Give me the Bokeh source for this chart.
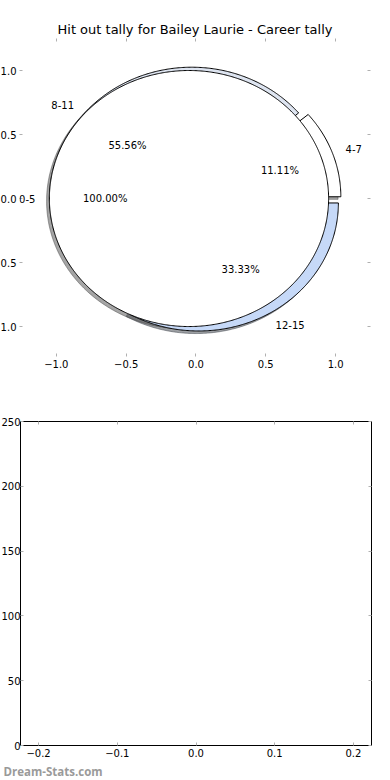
import numpy as np
from bokeh.plotting import figure
from bokeh.layouts import column
from bokeh.models import FixedTicker, Title, Range1d, LinearAxis, ColumnDataSource, LabelSet
from bokeh.core.properties import value
from bokeh.embed import file_html
from bokeh.resources import INLINE

# ---------------- data ----------------
chart_title = "Hit out tally for Bailey Laurie - Career tally"
outer_labels = ["4-7", "8-11", "12-15"]
outer_values = [1, 5, 3]
outer_colors = ["#ffffff", "#dde4f0", "#c6d9f8"]
outer_explode = [0.04, 0.04, 0.04]
inner_labels = ["0-5"]
inner_values = [1]
inner_colors = ["#ffffff"]
inner_explode = [0.05]
pie_ticks = [-1.0, -0.5, 0.0, 0.5, 1.0]
pie_xtick_labels = ["\u22121.0", "\u22120.5", "0.0", "0.5", "1.0"]
pie_ytick_labels = ["1.0", "0.5", "0.0", "0.5", "1.0"]  # as visible: minus signs cut at window edge
bar_x_ticks = [-0.2, -0.1, 0.0, 0.1, 0.2]
bar_x_labels = ["\u22120.2", "\u22120.1", "0.0", "0.1", "0.2"]
bar_y_ticks = [0, 50, 100, 150, 200, 250]
watermark = "Dream-Stats.com"

FONT = "DejaVu Sans"
TICK_COLOR = "#b0b0b0"


def pie_geometry(values, explode, radius=1.0, start=0.0):
    vals = np.asarray(values, dtype=float)
    fr = vals / vals.sum()
    polys_x, polys_y = [], []
    lab, pct = [], []
    t1 = start
    for f, e in zip(fr, explode):
        t2 = t1 + 360.0 * f
        thm = np.deg2rad((t1 + t2) / 2.0)
        cx = e * radius * np.cos(thm)
        cy = e * radius * np.sin(thm)
        n = max(int((t2 - t1) * 2), 4)
        ang = np.deg2rad(np.linspace(t1, t2, n))
        ax = cx + radius * np.cos(ang)
        ay = cy + radius * np.sin(ang)
        if abs(f - 1.0) < 1e-9:
            px, py = list(ax), list(ay)
        else:
            px = [cx] + list(ax) + [cx]
            py = [cy] + list(ay) + [cy]
        polys_x.append(px)
        polys_y.append(py)
        lx = cx + 1.1 * radius * np.cos(thm)
        ly = cy + 1.1 * radius * np.sin(thm)
        lab.append((lx, ly, "left" if lx > 0 else "right"))
        pct.append((cx + 0.6 * radius * np.cos(thm), cy + 0.6 * radius * np.sin(thm), "%.2f%%" % (100 * f)))
        t1 = t2
    return polys_x, polys_y, lab, pct


def shade(c):
    c = c.lstrip("#")
    r, g, b = (int(c[i:i + 2], 16) for i in (0, 2, 4))
    return "#%02x%02x%02x" % (int(0.3 * r), int(0.3 * g), int(0.3 * b))


ox, oy, olab, opct = pie_geometry(outer_values, outer_explode)
ix, iy, ilab, ipct = pie_geometry(inner_values, inner_explode)

all_x = ox + ix
all_y = oy + iy
all_c = outer_colors + inner_colors

# ---------------- top: pie ----------------
M1 = 10
p1 = figure(width=390 + 2 * M1, height=395, x_range=Range1d(-1.264, 1.25), y_range=Range1d(-1.234, 1.25),
            output_backend="svg", toolbar_location=None, x_axis_location=None, y_axis_location=None,
            min_border_left=28, min_border_right=20, min_border_top=38, min_border_bottom=39,
            margin=(0, 0, 0, -M1))
p1.outline_line_color = None
p1.grid.visible = False
p1.title.text = chart_title
p1.title.text_font = FONT
p1.title.text_font_size = "13px"
p1.title.text_font_style = "normal"
p1.title.text_color = "black"
p1.title.align = "center"
p1.title.standoff = 3

# shadows
shadow_src = ColumnDataSource(dict(
    xs=[[v - 0.02 for v in px] for px in all_x],
    ys=[[v - 0.02 for v in py] for py in all_y],
    c=[shade(c) for c in all_c]))
p1.patches("xs", "ys", source=shadow_src, fill_color="c", line_color="c", fill_alpha=0.5, line_alpha=0.5, line_width=1)
# wedges
wedge_src = ColumnDataSource(dict(xs=all_x, ys=all_y, c=all_c))
p1.patches("xs", "ys", source=wedge_src, fill_color="c", line_color="black", line_width=1)

labs = olab + ilab
names = outer_labels + inner_labels
for side in ("left", "right"):
    idx = [i for i, l in enumerate(labs) if l[2] == side]
    src = ColumnDataSource(dict(x=[labs[i][0] for i in idx], y=[labs[i][1] for i in idx],
                                t=[names[i] for i in idx]))
    p1.add_layout(LabelSet(x="x", y="y", text="t", source=src, text_align=side, text_baseline="middle",
                           text_font=value(FONT), text_font_size=value("10px"), text_color="black"))
pct_src = ColumnDataSource(dict(
    x=[l[0] for l in opct + ipct], y=[l[1] for l in opct + ipct], t=[l[2] for l in opct + ipct]))
p1.text("x", "y", text="t", source=pct_src, text_align="center", text_baseline="middle",
        text_font=value(FONT), text_font_size=value("10px"), text_color="black")


def style_axis(ax, labels=None, show=True, standoff=4):
    ax.axis_line_color = None
    ax.major_tick_in = 3
    ax.major_tick_out = 0
    ax.minor_tick_line_color = None
    ax.major_tick_line_color = TICK_COLOR
    ax.major_label_text_font = FONT
    if show:
        ax.major_label_text_font_size = "10px"
        ax.major_label_text_color = "black"
        ax.major_label_standoff = standoff
    else:
        ax.major_label_text_font_size = "1px"
        ax.major_label_text_color = None
        ax.major_label_standoff = 0
    if labels is not None:
        ax.major_label_overrides = labels


pt = FixedTicker(ticks=pie_ticks)
a_left = LinearAxis(ticker=pt)
style_axis(a_left, {t: l for t, l in zip(pie_ticks, pie_ytick_labels)}, standoff=3)
a_below = LinearAxis(ticker=pt)
style_axis(a_below, {t: l for t, l in zip(pie_ticks, pie_xtick_labels)}, standoff=3)
a_above = LinearAxis(ticker=pt)
style_axis(a_above, show=False)
a_right = LinearAxis(ticker=pt)
style_axis(a_right, show=False)
p1.add_layout(a_left, "left")
p1.add_layout(a_below, "below")
p1.add_layout(a_above, "above")
p1.add_layout(a_right, "right")

# ---------------- bottom: empty axes ----------------
M2 = 9
p2 = figure(width=390 + 2 * M2, height=385, x_range=Range1d(-0.223, 0.223), y_range=Range1d(0, 250),
            output_backend="svg", toolbar_location=None, x_axis_location=None, y_axis_location=None,
            min_border_left=29, min_border_right=20, min_border_top=26, min_border_bottom=20,
            margin=(0, 0, 0, -M2))
p2.outline_line_color = "black"
p2.outline_line_width = 1
p2.grid.visible = False
bx = FixedTicker(ticks=bar_x_ticks)
by = FixedTicker(ticks=bar_y_ticks)
b_left = LinearAxis(ticker=by)
style_axis(b_left, standoff=0)
b_below = LinearAxis(ticker=bx)
style_axis(b_below, {t: l for t, l in zip(bar_x_ticks, bar_x_labels)}, standoff=3)
b_above = LinearAxis(ticker=bx)
style_axis(b_above, show=False)
b_right = LinearAxis(ticker=by)
style_axis(b_right, show=False)
p2.add_layout(b_left, "left")
p2.add_layout(b_below, "below")
p2.add_layout(b_above, "above")
p2.add_layout(b_right, "right")
wm = Title(text=watermark, align="left", offset=-17, text_font="Open Sans",
           text_font_size="11.5px", text_font_style="bold", text_color="#9a9a9a", standoff=4)
p2.add_layout(wm, "below")

layout = column(p1, p2, spacing=0)
open("out.html", "w").write(file_html(layout, INLINE))
